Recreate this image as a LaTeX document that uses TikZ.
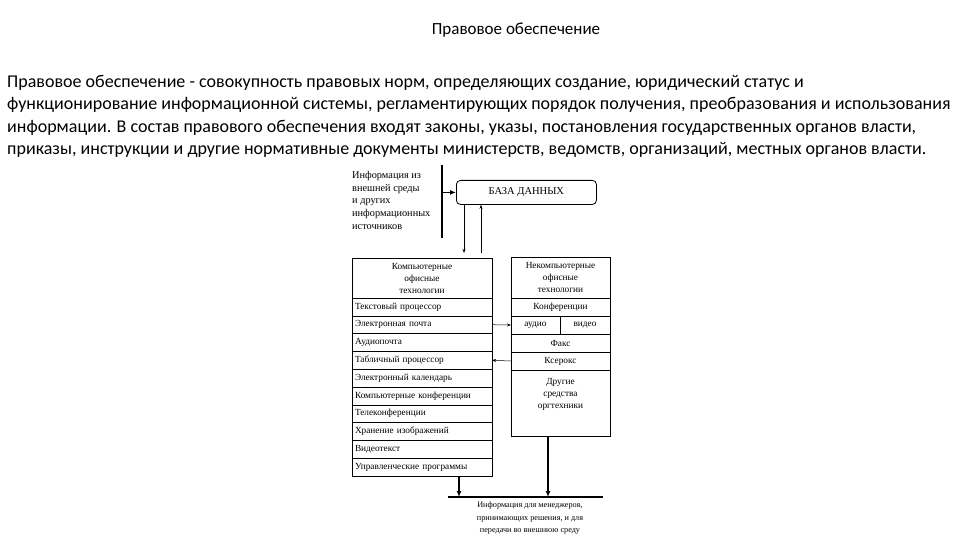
\documentclass[tikz,border=0pt]{standalone}
\usepackage{fontspec}
\setmainfont{Liberation Serif}
\newfontfamily\calibri{Carlito}
\usepackage{tikz}
\usetikzlibrary{arrows.meta, positioning}

\begin{document}
\begin{tikzpicture}[x=1pt, y=-1pt, font=\fontsize{9.3}{12}\selectfont,
  lrow/.style={draw, anchor=north west, minimum width=140, minimum height=17.8, text width=134, align=left, inner xsep=3pt, inner ysep=0pt, outer sep=0pt},
  rrow/.style={draw, anchor=north west, minimum width=99, minimum height=18, text width=93, align=center, inner xsep=3pt, inner ysep=0pt, outer sep=0pt},
  thin arrow/.style={-{Stealth[length=4pt, width=3pt]}, line width=0.5pt},
  bold arrow/.style={-{Latex[length=6pt, width=5pt]}, line width=1.4pt}]
\useasboundingbox (0,0) rectangle (960,540);

% heading and text
\node[font=\calibri\fontsize{17}{19}\selectfont] (title) at (516,30) {Правовое обеспечение};
\node[anchor=north west, align=left, inner sep=0pt, font=\calibri\fontsize{18}{22.3}\selectfont] (para) at (7,75) {%
Правовое обеспечение - совокупность правовых норм, определяющих создание, юридический статус и\\
функционирование информационной системы, регламентирующих порядок получения, преобразования и использования\\
информации. В состав правового обеспечения входят законы, указы, постановления государственных органов власти,\\
приказы, инструкции и другие нормативные документы министерств, ведомств, организаций, местных органов власти.};

% input from outside
\node[anchor=north west, align=left, inner sep=0pt, font=\fontsize{10.3}{12.8}\selectfont] (src) at (352,171) {Информация из\\внешней среды\\и других\\информационных\\источников};
\coordinate (vtop) at (442,165);
\coordinate (vbot) at (442,238);
\draw[line width=1.4pt] (vtop) -- (vbot);
\node[draw, rounded corners=4pt, line width=0.8pt, anchor=north west, minimum width=140, minimum height=24, font=\fontsize{10.5}{12}\selectfont] (db) at (456,180) {БАЗА ДАННЫХ};
\draw[bold arrow] (db.west -| vtop) -- (db.west);

% computer technologies
\node[lrow, minimum height=40, align=center] (lh) at (352,258) {Компьютерные\\офисные\\технологии};
\node[lrow, below=0pt of lh] (l1) {Текстовый процессор};
\node[lrow, below=0pt of l1] (l2) {Электронная почта};
\node[lrow, below=0pt of l2] (l3) {Аудиопочта};
\node[lrow, below=0pt of l3] (l4) {Табличный процессор};
\node[lrow, below=0pt of l4] (l5) {Электронный календарь};
\node[lrow, below=0pt of l5] (l6) {Компьютерные конференции};
\node[lrow, below=0pt of l6] (l7) {Телеконференции};
\node[lrow, below=0pt of l7] (l8) {Хранение изображений};
\node[lrow, below=0pt of l8] (l9) {Видеотекст};
\node[lrow, below=0pt of l9] (l10) {Управленческие программы};

% links to the data base
\coordinate (dn) at (464,253);
\coordinate (up) at (481,253);
\draw[thin arrow] (db.south -| dn) -- (dn);
\draw[thin arrow] (up) -- (db.south -| up);

% other technologies
\node[rrow, minimum height=41] (rh) at (511,257) {Некомпьютерные\\офисные\\технологии};
\node[rrow, below=0pt of rh] (r1) {Конференции};
\node[rrow, below=0pt of r1.south west, anchor=north west, minimum width=49, text width=43] (aud) {аудио};
\node[rrow, right=0pt of aud, minimum width=50, text width=44] (vid) {видео};
\node[rrow, below=0pt of aud.south west, anchor=north west] (r3) {Факс};
\node[rrow, below=0pt of r3] (r4) {Ксерокс};
\node[rrow, below=0pt of r4, minimum height=66] (r5) {};
\node[below=8pt of r5.north, align=center, inner sep=0pt] (r5t) {Другие\\средства\\оргтехники};

\draw[thin arrow] (l2.east) -- (aud.west);
\draw[thin arrow] (r4.west) -- (l4.east);

% output
\coordinate (bl) at (459,497);
\coordinate (br) at (548,497);
\coordinate (hl) at (448,497);
\coordinate (hr) at (603,497);
\draw[line width=1.4pt] (hl) -- (hr);
\draw[bold arrow] (l10.south -| bl) -- (bl);
\draw[bold arrow] (r5.south -| br) -- (br);
\node[anchor=north, align=center, inner sep=0pt, font=\fontsize{8.2}{12.5}\selectfont] (out) at (530,502) {Информация для менеджеров,\\принимающих решения, и для\\передачи во внешнюю среду};
\end{tikzpicture}
\end{document}
